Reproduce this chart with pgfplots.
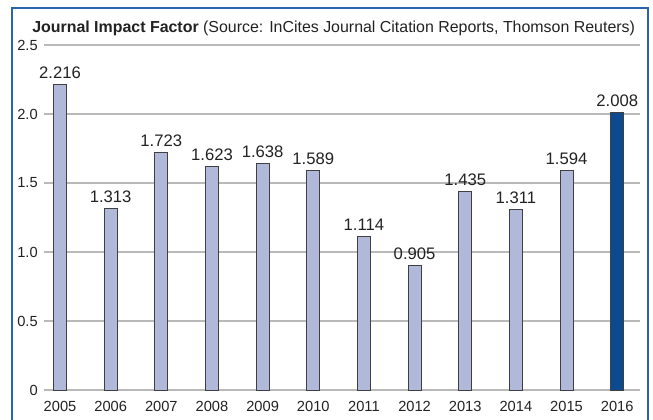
\documentclass[border=0pt]{standalone}
\usepackage{fontspec}
\setmainfont{Liberation Sans}
\usepackage{pgfplots}
\pgfplotsset{compat=1.18}
\definecolor{barfill}{HTML}{B1B9DA}
\definecolor{barhi}{HTML}{0B4A8F}
\definecolor{framecol}{HTML}{2A64AC}
\definecolor{gridcol}{HTML}{B9B9B9}
\definecolor{txt}{HTML}{222222}
\begin{document}
\begin{tikzpicture}[x=0.75pt,y=0.75pt]
\path[use as bounding box] (0,0) rectangle (653,419);
\draw[framecol, line width=0.9pt] (12,-2) -- (12,411) -- (648,411) -- (648,-2);
\node[anchor=base west, inner sep=0, text=txt, font=\fontsize{11.95}{13}\selectfont] at (32,387) {\textbf{Journal Impact Factor} (Source: InCites Journal Citation Reports, Thomson Reuters)};
\coordinate (A) at (44,29);
\begin{axis}[
  at={(A)}, anchor=south west,
  scale only axis, width=447pt, height=258.75pt,
  xmin=-0.316, xmax=11.45, ymin=0, ymax=2.5,
  axis line style={draw=none},
  major tick length=0pt,
  ytick={0,0.5,1,1.5,2,2.5},
  yticklabels={0,0.5,1.0,1.5,2.0,2.5},
  xtick={0,...,11},
  xticklabels={2005,2006,2007,2008,2009,2010,2011,2012,2013,2014,2015,2016},
  ymajorgrids, grid style={gridcol, line width=1pt},
  tick label style={font=\fontsize{11}{12}\selectfont, text=txt},
  yticklabel style={anchor=east, inner sep=0pt, xshift=-4.5pt},
  xticklabel style={anchor=base, inner sep=0pt, yshift=-16.3pt},
  ybar, bar width=9.75pt,
  clip=false,
  nodes near coords={\pgfmathprintnumber[fixed,precision=3,fixed zerofill]{\pgfplotspointmeta}},
  nodes near coords style={anchor=base, inner sep=0pt, yshift=4.5pt, font=\fontsize{12.5}{13}\selectfont, text=txt, /pgf/number format/assume math mode=true},
]
\addplot[bar shift=0pt, fill=barfill, draw=black!75, line width=0.75pt] coordinates {
(0,2.216) (1,1.313) (2,1.723) (3,1.623) (4,1.638) (5,1.589) (6,1.114) (7,0.905) (8,1.435) (9,1.311) (10,1.594)};
\addplot[bar shift=0pt, fill=barhi, draw=black!75, line width=0.75pt] coordinates {(11,2.008)};
\end{axis}
\end{tikzpicture}
\end{document}
